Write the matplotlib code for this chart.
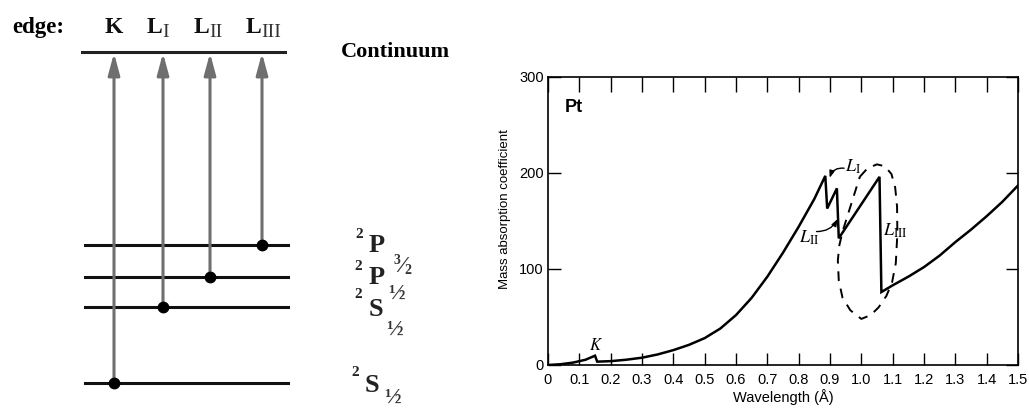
import numpy as np
import matplotlib
matplotlib.use("Agg")
import matplotlib.pyplot as plt

plt.rcParams["font.family"] = ["Liberation Sans Narrow", "Liberation Sans", "DejaVu Sans"]
plt.rcParams["mathtext.fontset"] = "stix"

# --- energy level scheme (schematic, screen-like units, y grows downward) ---
edge_main = ["K", "L", "L", "L"]
edge_sub = ["", "I", "II", "III"]
edge_x = [114, 163, 210, 262]
edge_level = [383, 307, 277, 245]          # level each edge starts from
level_y = [383, 307, 277, 245]
continuum_y = 52
term_letter = ["S", "S", "P", "P"]
term_j = ["½", "½", "½", "3/2"]

# --- Pt mass absorption coefficient vs wavelength ---
wl = [0, 0.04, 0.08, 0.12, 0.15, 0.157, 0.2, 0.25, 0.3, 0.35, 0.4, 0.45, 0.5,
      0.55, 0.6, 0.65, 0.7, 0.75, 0.8, 0.85, 0.885, 0.891, 0.922, 0.928,
      1.058, 1.064, 1.1, 1.15, 1.2, 1.25, 1.3, 1.35, 1.4, 1.45, 1.5]
mu = [0, 0.8, 2.5, 5.5, 9.7, 3.5, 4, 5.5, 7.6, 11, 15.5, 21, 28,
      38, 52, 70, 92, 117, 144, 173, 197, 163, 184, 132,
      196, 76, 83, 92, 102, 114, 128, 141, 155, 170, 187]

# dashed loop around the L edges
loop_wl = [0.995, 1.02, 1.05, 1.075, 1.096, 1.108, 1.114, 1.115, 1.11, 1.098,
           1.08, 1.055, 1.03, 1.0, 0.965, 0.94, 0.928, 0.925, 0.93, 0.941,
           0.968, 0.995]
loop_mu = [196, 205, 209, 207, 199, 185, 165, 137, 106, 86,
           72, 60, 52, 48, 57, 70, 88, 109, 125, 140,
           168, 196]

fig = plt.figure(figsize=(10.29, 4.08), dpi=100)

# left: level diagram drawn in pixel-like coordinates
d = fig.add_axes([0, 0, 1, 1])
d.set_xlim(0, 1029)
d.set_ylim(408, 0)
d.axis("off")

serif = ["Liberation Serif", "DejaVu Serif"]
d.plot([82, 285], [continuum_y, continuum_y], color="#222222", lw=2.2)
for y in level_y:
    d.plot([85, 288], [y, y], color="#111111", lw=2.2)
for x, y0 in zip(edge_x, edge_level):
    d.annotate("", xy=(x, continuum_y + 1), xytext=(x, y0),
               arrowprops=dict(arrowstyle="-|>,head_length=1.3,head_width=0.35",
                               color="#6f6f6f", lw=2.2, shrinkA=0, shrinkB=0))
    d.plot(x, y0, "o", color="black", ms=7.5, zorder=5)

d.text(12, 33, "edge:", family=serif, weight="bold", fontsize=16.5,
       ha="left", va="baseline")
for x, m, s in zip(edge_x, edge_main, edge_sub):
    if s:
        d.text(x - 1, 33, m, family=serif, weight="bold", fontsize=17,
               ha="right", va="baseline", color="#111111")
        d.text(x - 1, 37, s, family=serif, fontsize=14,
               ha="left", va="baseline", color="#333333")
    else:
        d.text(x, 33, m, family=serif, weight="bold", fontsize=17,
               ha="center", va="baseline", color="#111111")
d.text(395, 52, "Continuum", family=serif, weight="bold", fontsize=16,
       ha="center", va="center")

term_pos = [(372, 385, 355, 372, 393, 398),
            (376, 309, 358, 295, 395, 330),
            (377, 278, 358, 266, 397, 294),
            (377, 245, 359, 235, 402, 266)]
for (lx, ly, sx, sy, jx, jy), let, j in zip(term_pos, term_letter, term_j):
    d.text(lx, ly, let, family=serif, weight="bold", fontsize=19,
           ha="center", va="center", color="#222222")
    d.text(sx, sy, "2", family=serif, weight="bold", fontsize=11,
           ha="center", va="center", color="#222222")
    if j == "½":
        d.text(jx, jy, j, family=serif, weight="bold", fontsize=16,
               ha="center", va="center", color="#333333")
    else:
        num, den = j.split("/")
        d.text(jx - 5, jy - 5, num, family=serif, weight="bold", fontsize=10,
               ha="center", va="center", color="#333333")
        d.text(jx, jy, "⁄", family=serif, weight="bold", fontsize=17,
               ha="center", va="center", color="#333333")
        d.text(jx + 6, jy + 4, den, family=serif, weight="bold", fontsize=10,
               ha="center", va="center", color="#333333")

# right: absorption curve
ax = fig.add_axes([548 / 1029, 43 / 408, 470 / 1029, 288 / 408])
ax.plot(wl, mu, color="black", lw=1.8, solid_joinstyle="miter")
ax.plot(loop_wl, loop_mu, color="black", lw=1.4, ls=(0, (5, 4)))
ax.set_xlim(0, 1.5)
ax.set_ylim(0, 300)

for s in ax.spines.values():
    s.set_linewidth(1.2)

xt = np.round(np.arange(0, 1.51, 0.1), 1)
ax.set_xticks(xt)
ax.set_xticklabels(["0"] + [f"{v:.1f}" for v in xt[1:]])
ax.set_yticks([0, 100, 200, 300])
ax.tick_params(axis="x", direction="in", length=9, width=1, top=True,
               labelsize=10.5, pad=6)
ax.tick_params(axis="y", direction="in", length=9, width=1, right=True,
               labelsize=10.5, pad=3)
for t in ax.xaxis.get_major_ticks():
    t.tick2line.set_markersize(11)

ax.set_xlabel("Wavelength (Å)", fontsize=10.5, labelpad=1)
ax.set_ylabel("Mass absorption coefficient", fontsize=9.5)
ax.yaxis.set_label_coords(-0.079, 0.54)

ax.text(0.053, 268, "Pt", fontsize=13, weight="bold", ha="left", va="center")
ax.text(0.152, 21, r"$K$", fontsize=12, ha="center", va="center")
ax.text(0.975, 206, r"$L_{\mathrm{I}}$", fontsize=13, ha="center", va="center")
ax.text(0.833, 132, r"$L_{\mathrm{II}}$", fontsize=13, ha="center", va="center")
ax.text(1.108, 140, r"$L_{\mathrm{III}}$", fontsize=13, ha="center", va="center")

arrow = dict(arrowstyle="-|>,head_length=0.4,head_width=0.15", color="black",
             lw=1, shrinkA=0, shrinkB=0, mutation_scale=10)
ax.annotate("", xy=(0.899, 195), xytext=(0.945, 205),
            arrowprops=dict(arrow, connectionstyle="arc3,rad=0.4"))
ax.annotate("", xy=(0.924, 152), xytext=(0.857, 139),
            arrowprops=dict(arrow, connectionstyle="arc3,rad=0.3"))

fig.savefig("out.png", dpi=100)
